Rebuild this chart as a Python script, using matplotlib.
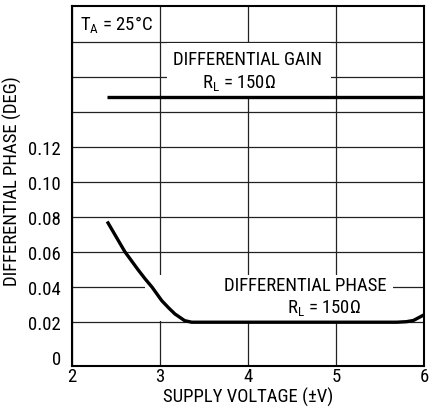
import matplotlib
matplotlib.use("Agg")
import matplotlib.pyplot as plt
from matplotlib.patches import Rectangle

# readings from the reference
phase_v = [2.40, 2.50, 2.60, 2.75, 2.83, 2.91, 3.02, 3.10, 3.17, 3.28, 3.36, 4.0, 5.0, 5.69, 5.80, 5.88, 6.0]
phase_deg = [0.0775, 0.0689, 0.0603, 0.0500, 0.0448, 0.040, 0.0323, 0.0281, 0.0247, 0.0209, 0.020,
             0.020, 0.020, 0.020, 0.0203, 0.021, 0.0242]
gain_v = [2.40, 6.0]
gain_level = [0.1486, 0.1486]

x_ticks = [2, 3, 4, 5, 6]
y_ticks = [0, 0.02, 0.04, 0.06, 0.08, 0.10, 0.12, 0.14, 0.16, 0.18]
y_labels = ["0", "0.02", "0.04", "0.06", "0.08", "0.10", "0.12", "", "", ""]

FONT = "Roboto Condensed"
plt.rcParams["font.family"] = [FONT, "DejaVu Sans"]
plt.rcParams["mathtext.fontset"] = "custom"
plt.rcParams["mathtext.rm"] = FONT
plt.rcParams["mathtext.it"] = FONT

fig = plt.figure(figsize=(4.35, 4.14), dpi=100)
ax = fig.add_axes([0.1655, 0.1135, 0.8092, 0.8696])

fs = 13.5
ax.set_xlim(2, 6)
ax.set_ylim(-0.005, 0.2005)
ax.set_xticks(x_ticks)
ax.set_yticks(y_ticks, y_labels)
ax.tick_params(length=0, labelsize=fs, colors="black")
ax.tick_params(axis="y", pad=8)
ax.tick_params(axis="x", pad=1)
ax.grid(True, color="#222222", linewidth=0.9)
ax.yaxis.get_gridlines()[0].set_visible(False)
ax.set_axisbelow(True)
for s in ax.spines.values():
    s.set_linewidth(1.5)

# white boxes behind the labels (cover the grid)
ax.add_patch(Rectangle((3.08, 0.1493), 1.86, 0.0303, facecolor="white", edgecolor="none", zorder=1.5))
ax.add_patch(Rectangle((2.826, 0.0207), 2.822, 0.0263, facecolor="white", edgecolor="none", zorder=1.5))

ax.plot(phase_v, phase_deg, color="black", linewidth=2.4, zorder=3, solid_capstyle="butt")
ax.plot(gain_v, gain_level, color="black", linewidth=2.4, zorder=3, solid_capstyle="butt")

ax.text(2.50, 0.1905, r"T$_\mathrm{A}$ = 25°C", fontsize=fs, ha="center", va="center", zorder=4)
ax.text(3.99, 0.1705, "DIFFERENTIAL GAIN", fontsize=fs, ha="center", va="center", zorder=4)
ax.text(3.90, 0.1570, r"R$_\mathrm{L}$ = 150Ω", fontsize=fs, ha="center", va="center", zorder=4)
ax.text(4.65, 0.0413, "DIFFERENTIAL PHASE", fontsize=fs, ha="center", va="center", zorder=4)
ax.text(4.86, 0.0287, r"R$_\mathrm{L}$ = 150Ω", fontsize=fs, ha="center", va="center", zorder=4)

ax.set_xlabel("SUPPLY VOLTAGE (±V)", fontsize=fs, labelpad=1)
ax.set_ylabel("DIFFERENTIAL PHASE (DEG)", fontsize=fs)
ax.yaxis.set_label_coords(-0.142, 0.517)

fig.savefig("out.png", dpi=100)
